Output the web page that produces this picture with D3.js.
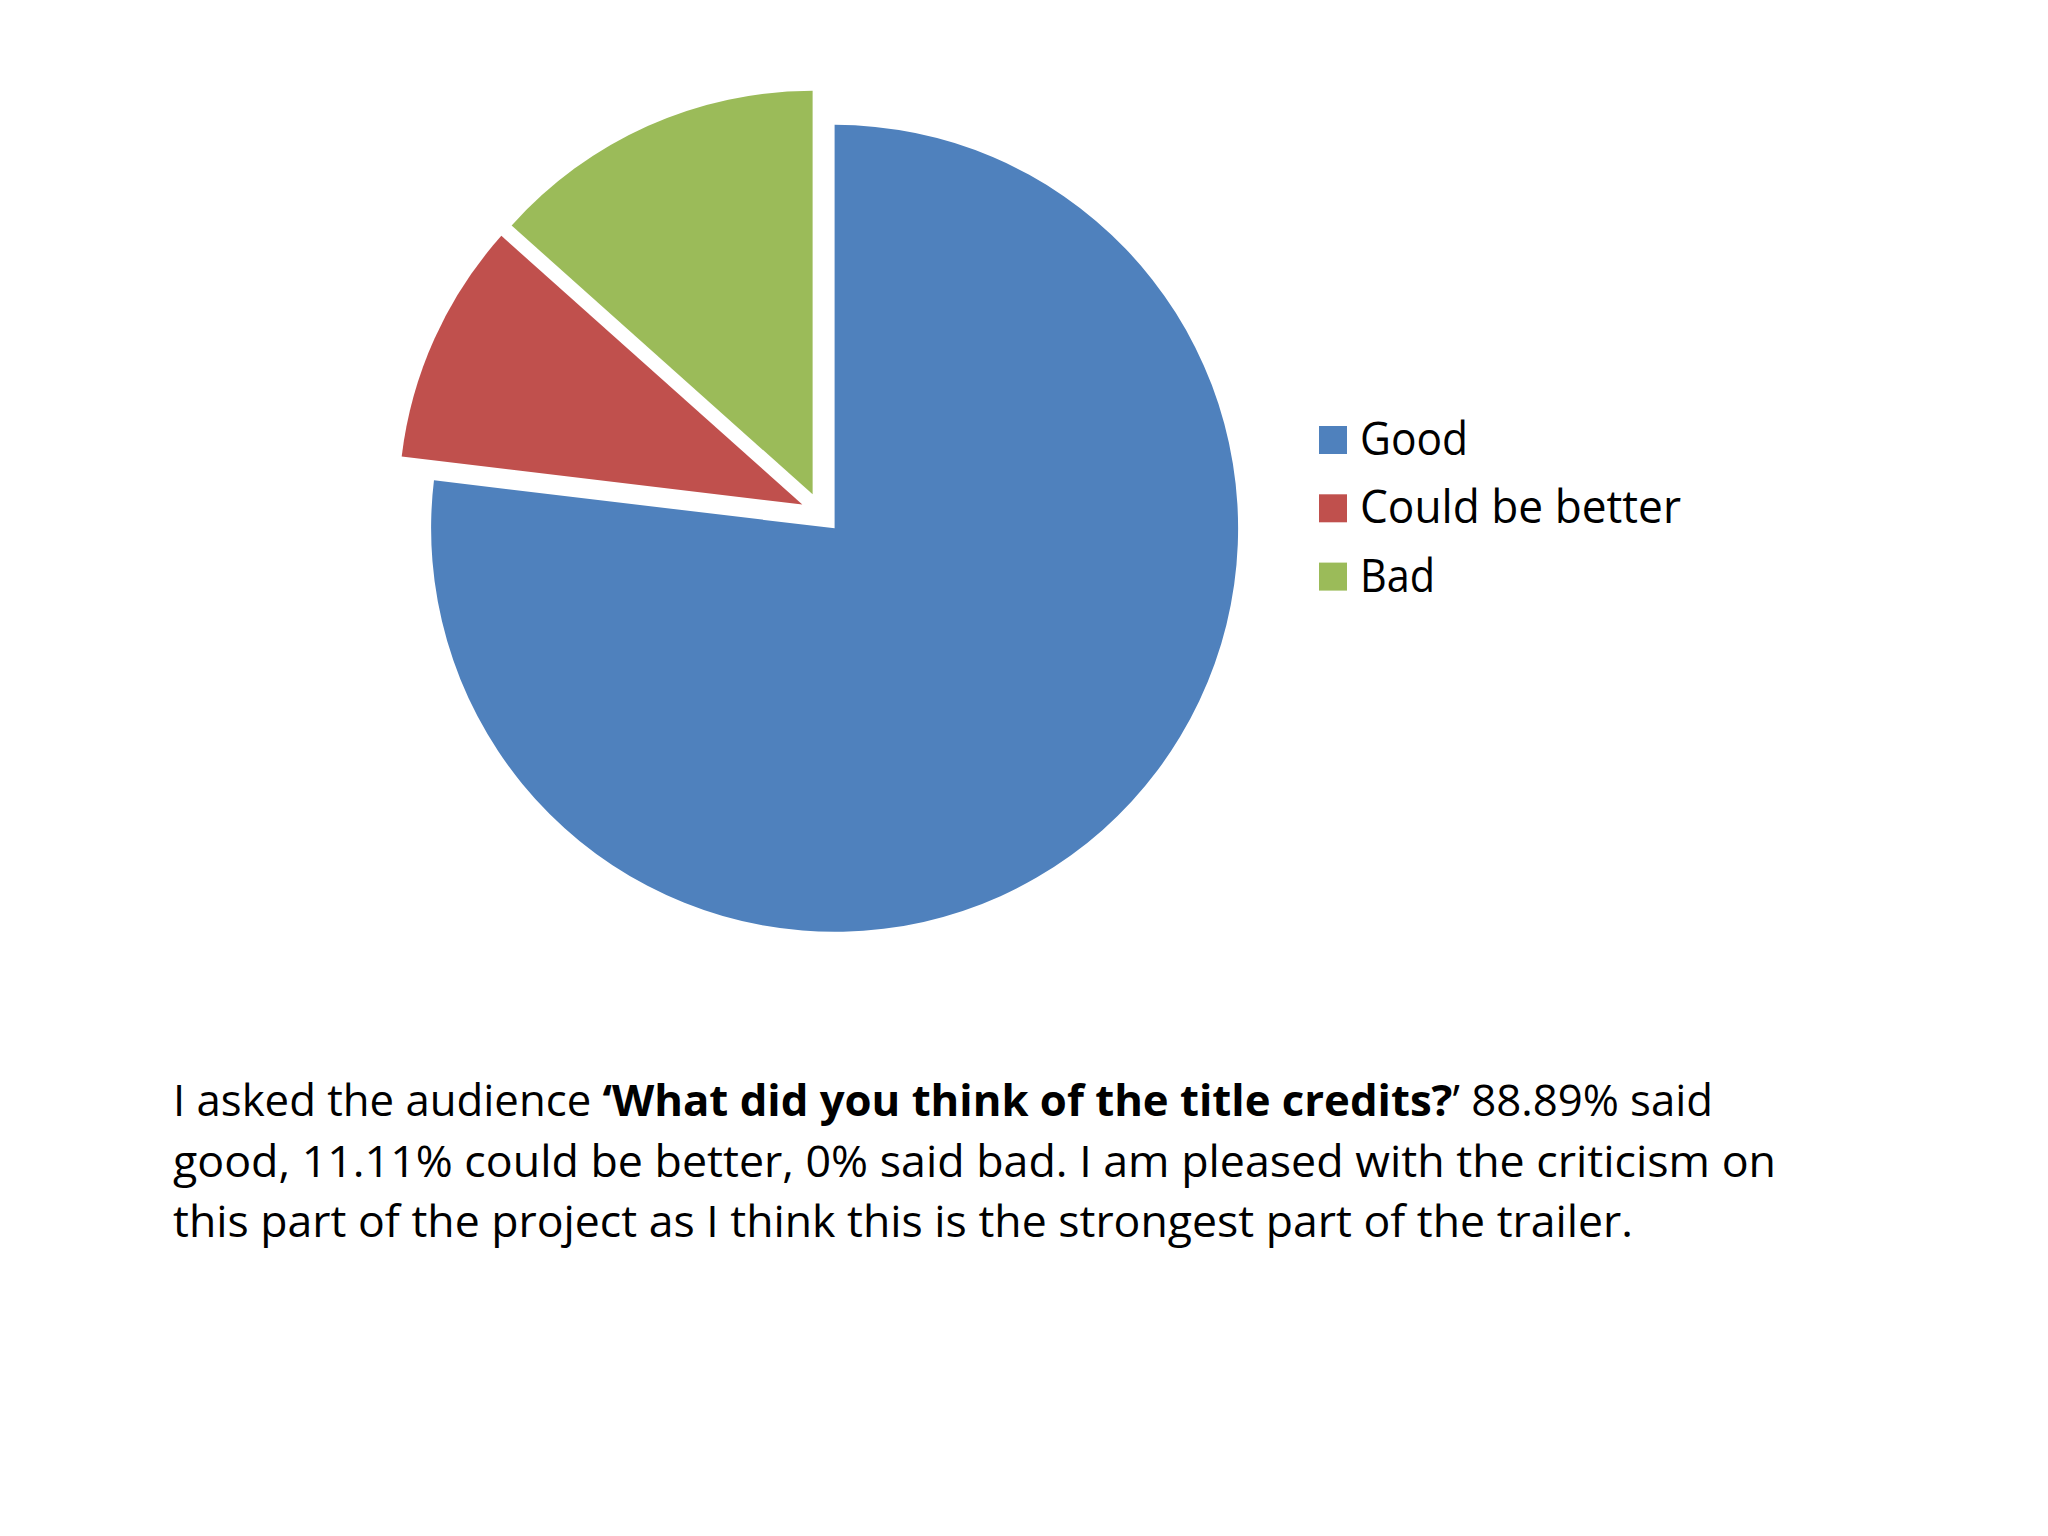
<!DOCTYPE html>
<html>
<head>
<meta charset="utf-8">
<script src="https://cdn.jsdelivr.net/npm/d3@7"></script>
<style>
  html, body { margin: 0; padding: 0; background: #ffffff; }
  svg { display: block; }
  text { font-family: "Open Sans", "Noto Sans", sans-serif; fill: #000; }
</style>
</head>
<body>
<svg id="chart" width="2048" height="1536"></svg>
<script>
// ---- data ----
const categories = ["Good", "Could be better", "Bad"];
const values = [76.9, 9.7, 13.4];
const colors = ["#4F81BD", "#C0504D", "#9BBB59"];

const bodyLine1 = [
  { text: "I asked the audience ", bold: false },
  { text: "\u2018What did you think of the title credits?", bold: true },
  { text: "\u2019 88.89% said", bold: false }
];
const bodyLine2 = "good, 11.11% could be better, 0% said bad. I am pleased with the criticism on";
const bodyLine3 = "this part of the project as I think this is the strongest part of the trailer.";

// ---- layout / style ----
const W = 2048, H = 1536;
const cx = 821, cy = 513, radius = 403.5, explode = 20.5;

const svg = d3.select("#chart");
svg.append("rect").attr("width", W).attr("height", H).attr("fill", "#ffffff");

const pie = d3.pie().sort(null).value(d => d.value).startAngle(0).endAngle(2 * Math.PI);
const arc = d3.arc().innerRadius(0).outerRadius(radius);
const data = categories.map((c, i) => ({ name: c, value: values[i], color: colors[i] }));

const g = svg.append("g").attr("transform", `translate(${cx},${cy})`);
g.selectAll("path.slice")
  .data(pie(data))
  .join("path")
  .attr("class", "slice")
  .attr("d", arc)
  .attr("fill", d => d.data.color)
  .attr("transform", d => {
    const a = (d.startAngle + d.endAngle) / 2;
    return `translate(${explode * Math.sin(a)},${-explode * Math.cos(a)})`;
  });

// ---- legend ----
const legendX = 1319, legendY0 = 426, legendStep = 68.3, sw = 28;
const legendWidths = [108, 321, 75];
const lg = svg.append("g");
const items = lg.selectAll("g.item").data(data).join("g")
  .attr("class", "item")
  .attr("transform", (d, i) => `translate(${legendX},${legendY0 + i * legendStep})`);
items.append("rect").attr("width", sw).attr("height", sw).attr("fill", d => d.color);
items.append("text")
  .attr("x", 41).attr("y", 29)
  .attr("font-size", 46)
  .attr("textLength", (d, i) => legendWidths[i])
  .attr("lengthAdjust", "spacingAndGlyphs")
  .text(d => d.name);

// ---- body text ----
const tx = 173, fs = 43.5;
const baselines = [1116, 1177, 1237];
const lineWidths = [1540, 1603, 1460];

const t1 = svg.append("text").attr("x", tx).attr("y", baselines[0]).attr("font-size", fs)
  .attr("textLength", lineWidths[0]).attr("lengthAdjust", "spacingAndGlyphs");
t1.selectAll("tspan").data(bodyLine1).join("tspan")
  .attr("font-weight", d => d.bold ? 700 : 400)
  .text(d => d.text);

svg.append("text").attr("x", tx).attr("y", baselines[1]).attr("font-size", fs)
  .attr("textLength", lineWidths[1]).attr("lengthAdjust", "spacingAndGlyphs")
  .text(bodyLine2);
svg.append("text").attr("x", tx).attr("y", baselines[2]).attr("font-size", fs)
  .attr("textLength", lineWidths[2]).attr("lengthAdjust", "spacingAndGlyphs")
  .text(bodyLine3);
</script>
</body>
</html>
